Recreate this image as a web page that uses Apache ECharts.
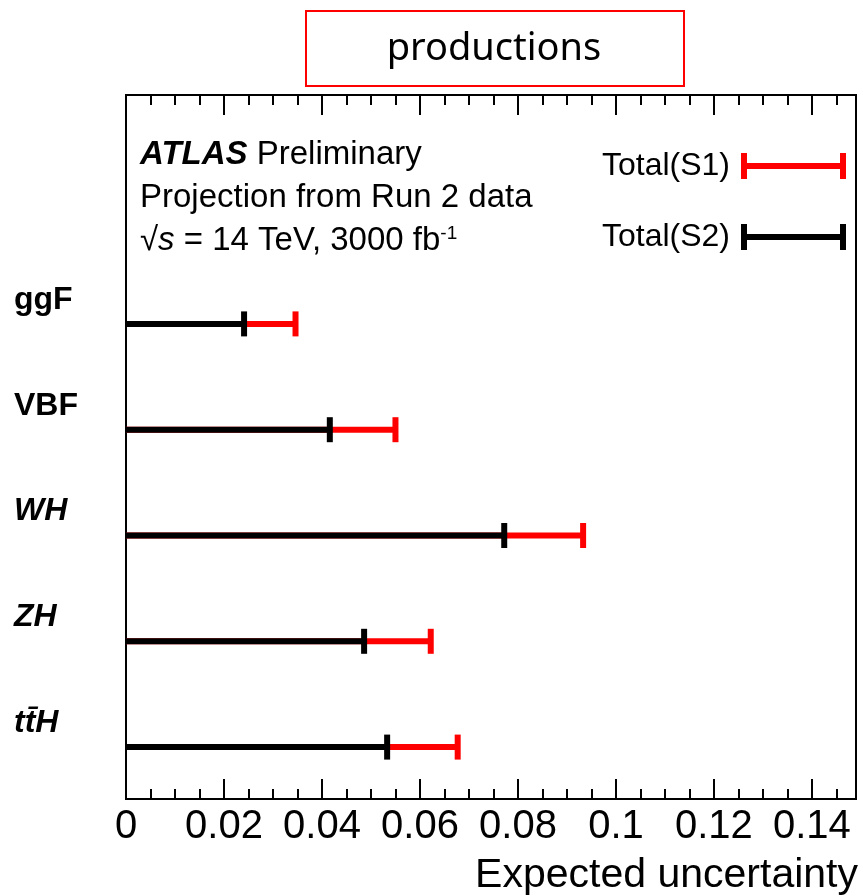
<!DOCTYPE html>
<html>
<head>
<meta charset="utf-8">
<script src="https://cdn.jsdelivr.net/npm/echarts@6/dist/echarts.min.js"></script>
<style>html,body{margin:0;padding:0;background:#fff}#c{width:863px;height:896px}</style>
</head>
<body>
<div id="c"></div>
<script>
// ---- data ----
const categories = ['ggF', 'VBF', 'WH', 'ZH', 'tt\u0304H'];
const italicCategories = ['WH', 'ZH', 'tt\u0304H'];
const totalS1 = [0.0346, 0.0550, 0.0933, 0.0622, 0.0677];
const totalS2 = [0.0241, 0.0416, 0.0772, 0.0486, 0.0533];
const seriesNames = ['Total(S1)', 'Total(S2)'];
const xMin = 0, xMax = 0.149, xInterval = 0.02;
const xTitle = 'Expected uncertainty';
const boxTitle = 'productions';

const FONT = '"Liberation Sans", Arial, Helvetica, sans-serif';
const chart = echarts.init(document.getElementById('c'), null, {renderer: 'canvas'});

function errRender(values, color) {
  return function (params, api) {
    const i = api.value(0);
    const v = api.value(1);
    const p0 = api.coord([0, i]);
    const p1 = api.coord([v, i]);
    return {
      type: 'group',
      children: [
        {type: 'line', shape: {x1: p0[0], y1: p0[1], x2: p1[0], y2: p1[1]},
         style: {stroke: color, lineWidth: 6}},
        {type: 'rect', shape: {x: p1[0] - 3, y: p1[1] - 12.5, width: 6, height: 25},
         style: {fill: color}}
      ]
    };
  };
}

const legendIcon = 'path://M0,0H6V10H99V0H105V26H99V16H6V26H0Z';

const option = {
  animation: false,
  backgroundColor: '#fff',
  graphic: [
    {type: 'rect', left: 305, top: 10, shape: {width: 378, height: 75},
     style: {fill: '#fff', stroke: '#ff0000', lineWidth: 2}},
    {type: 'text', x: 494, y: 49,
     style: {text: boxTitle, font: '38px "Noto Sans", "Open Sans", sans-serif', fill: '#000',
       textAlign: 'center', textVerticalAlign: 'middle'}},
    {type: 'text', left: 140, top: 138,
     style: {text: '{b|ATLAS} Preliminary', font: '33px ' + FONT, fill: '#000',
       rich: {b: {fontWeight: 'bold', fontStyle: 'italic', fontSize: 33, fontFamily: FONT}}}},
    {type: 'text', left: 140, top: 181,
     style: {text: 'Projection from Run 2 data', font: '33px ' + FONT, fill: '#000'}},
    {type: 'text', left: 140, top: 224,
     style: {text: '\u221A{i|s} = 14 TeV, 3000 fb{sup|-1}', font: '33px ' + FONT, fill: '#000',
       rich: {i: {fontStyle: 'italic', fontSize: 33, fontFamily: FONT},
              sup: {fontSize: 19, fontFamily: FONT, verticalAlign: 'top', padding: [0, 0, 14, 0]}}}}
  ],
  legend: {
    orient: 'vertical', right: 17, top: 150, align: 'right', padding: 0,
    itemWidth: 105, itemHeight: 26, itemGap: 39,
    textStyle: {fontFamily: FONT, fontSize: 32, color: '#000', lineHeight: 26, padding: [0, 6, 4, 0]},
    data: [{name: seriesNames[0], icon: legendIcon}, {name: seriesNames[1], icon: legendIcon}]
  },
  grid: [
    {left: 126, right: 7, top: 95, bottom: 96, show: true, borderColor: '#000', borderWidth: 2, backgroundColor: 'transparent', containLabel: false},
    {left: 126, right: 7, top: 271, bottom: 96, containLabel: false}
  ],
  xAxis: [
    {gridIndex: 0, type: 'value', position: 'bottom', min: xMin, max: xMax, interval: xInterval,
     axisLine: {show: true, onZero: false, lineStyle: {color: '#000', width: 2}},
     axisTick: {show: true, inside: true, length: 20, lineStyle: {color: '#000', width: 2}},
     minorTick: {show: true, splitNumber: 4, length: 10, lineStyle: {color: '#000', width: 2}},
     splitLine: {show: false},
     axisLabel: {show: true, showMaxLabel: false, margin: 8, fontFamily: FONT, fontSize: 40, color: '#000',
       formatter: function (v) { return String(+v.toFixed(3)); }},
     name: xTitle, nameLocation: 'end', nameGap: 0,
     nameTextStyle: {fontFamily: FONT, fontSize: 41, color: '#000', align: 'right', verticalAlign: 'top', padding: [56, -2, 0, 0]}
    },
    {gridIndex: 0, type: 'value', position: 'top', min: xMin, max: xMax, interval: xInterval,
     axisLine: {show: true, onZero: false, lineStyle: {color: '#000', width: 2}},
     axisTick: {show: true, inside: true, length: 20, lineStyle: {color: '#000', width: 2}},
     minorTick: {show: true, splitNumber: 4, length: 10, lineStyle: {color: '#000', width: 2}},
     splitLine: {show: false}, axisLabel: {show: false}},
    {gridIndex: 1, type: 'value', min: xMin, max: xMax, show: false}
  ],
  yAxis: [
    {gridIndex: 0, type: 'value', min: 0, max: 1, show: false},
    {gridIndex: 1, type: 'category', data: categories, inverse: true,
     axisLine: {show: false}, axisTick: {show: false}, splitLine: {show: false},
     axisLabel: {
       align: 'left', margin: 112, verticalAlign: 'bottom', padding: [0, 0, 8, 0],
       formatter: function (v) { return italicCategories.indexOf(v) >= 0 ? '{bi|' + v + '}' : '{b|' + v + '}'; },
       rich: {
         b: {fontFamily: FONT, fontWeight: 'bold', fontSize: 32, color: '#000'},
         bi: {fontFamily: FONT, fontWeight: 'bold', fontStyle: 'italic', fontSize: 32, color: '#000'}
       }
     }}
  ],
  series: [
    {name: seriesNames[0], type: 'custom', xAxisIndex: 2, yAxisIndex: 1,
     itemStyle: {color: '#ff0000'}, encode: {x: 1, y: 0},
     renderItem: errRender(totalS1, '#ff0000'),
     data: totalS1.map((v, i) => [i, v])},
    {name: seriesNames[1], type: 'custom', xAxisIndex: 2, yAxisIndex: 1,
     itemStyle: {color: '#000000'}, encode: {x: 1, y: 0},
     renderItem: errRender(totalS2, '#000000'),
     data: totalS2.map((v, i) => [i, v])}
  ]
};
chart.setOption(option);
</script>
</body>
</html>
